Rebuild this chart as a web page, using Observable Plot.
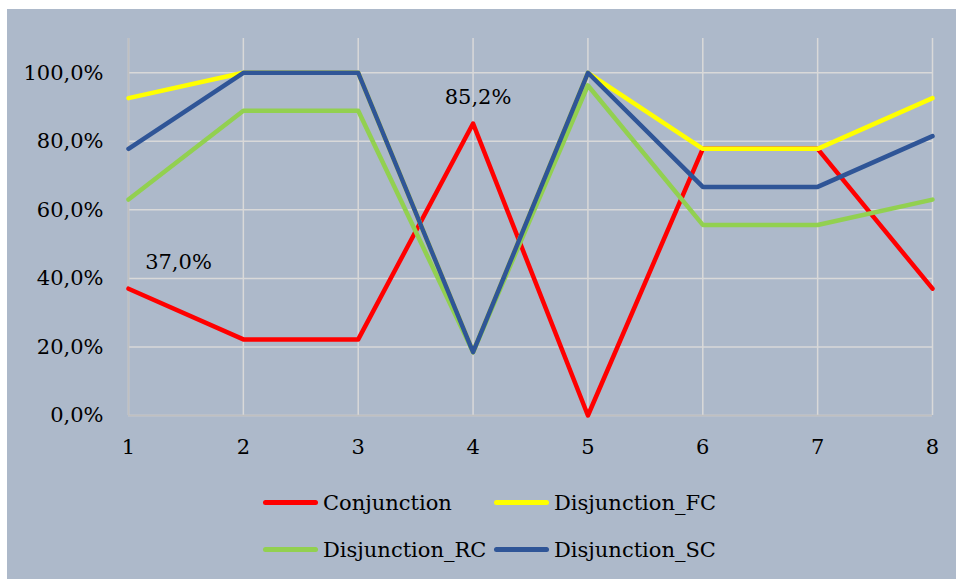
<!DOCTYPE html>
<html><head><meta charset="utf-8">
<script src="https://cdn.jsdelivr.net/npm/d3@7"></script>
<script src="https://cdn.jsdelivr.net/npm/@observablehq/plot@0.6"></script>
<style>
body{margin:0;background:#fff;}
#chart{position:absolute;left:7px;top:9px;width:949px;height:570px;background:#adb9ca;font-family:"DejaVu Serif",serif;overflow:hidden;}
#legend{position:absolute;left:256px;top:470px;display:grid;grid-template-columns:231px 231px;grid-auto-rows:47px;font-size:21px;color:#000;}
.item{display:flex;align-items:center;}
.sw{width:55px;height:5px;border-radius:3px;margin-right:5px;}
</style></head>
<body><div id="chart"><div id="legend"></div></div>
<script>
const categories = [1, 2, 3, 4, 5, 6, 7, 8];
const conjunction   = [0.370, 0.222, 0.222, 0.852, 0.000, 0.778, 0.778, 0.370];
const disjunctionFC = [0.926, 1.000, 1.000, 0.185, 1.000, 0.778, 0.778, 0.926];
const disjunctionRC = [0.630, 0.889, 0.889, 0.185, 0.963, 0.556, 0.556, 0.630];
const disjunctionSC = [0.778, 1.000, 1.000, 0.185, 1.000, 0.667, 0.667, 0.815];
const seriesNames = ["Conjunction", "Disjunction_FC", "Disjunction_RC", "Disjunction_SC"];
const seriesColors = ["#ff0000", "#ffff00", "#92d050", "#2f5597"];
const yTicks = [0, 0.2, 0.4, 0.6, 0.8, 1.0];
const legendOrder = ["Conjunction", "Disjunction_FC", "Disjunction_RC", "Disjunction_SC"];

const seriesValues = [conjunction, disjunctionFC, disjunctionRC, disjunctionSC];
const rows = [];
seriesNames.forEach((name, i) => categories.forEach((c, j) => rows.push({series: name, x: c, y: seriesValues[i][j]})));

const locale = d3.formatLocale({decimal: ",", thousands: ".", grouping: [3], currency: ["", "€"]});
const pct = locale.format(".1%");

const label1 = rows.filter(d => d.series === "Conjunction" && d.x === 1);
const label2 = rows.filter(d => d.series === "Conjunction" && d.x === 4);

const plot = Plot.plot({
  width: 949, height: 470,
  marginLeft: 121, marginRight: 24, marginTop: 29, marginBottom: 64,
  style: {background: "transparent", fontFamily: "DejaVu Serif, serif", fontSize: "21px", color: "#000"},
  x: {domain: [1, 8], ticks: categories, tickFormat: d => String(d), tickSize: 0, tickPadding: 24, label: null},
  y: {domain: [0, 1.1], ticks: yTicks, tickFormat: pct, tickSize: 0, tickPadding: 25, label: null},
  color: {domain: seriesNames, range: seriesColors},
  marks: [
    Plot.ruleY(yTicks, {stroke: "#d9d9d9", strokeWidth: 1.5, strokeOpacity: 1}),
    Plot.ruleX(categories, {stroke: "#d9d9d9", strokeWidth: 1.5, strokeOpacity: 1}),
    Plot.ruleX([1], {stroke: "#c0c0c0", strokeWidth: 1.5}),
    Plot.ruleY([0], {stroke: "#c0c0c0", strokeWidth: 1.5}),
    Plot.lineY(rows, {x: "x", y: "y", z: "series", stroke: "series", strokeWidth: 4.5, strokeLinecap: "round"}),
    Plot.text(label1, {x: "x", y: "y", text: d => pct(d.y), dx: 50, dy: -26, fill: "#000"}),
    Plot.text(label2, {x: "x", y: "y", text: d => pct(d.y), dx: 5, dy: -26, fill: "#000"}),
    Plot.axisX({ticks: categories, tickFormat: d => String(d), tickSize: 0, tickPadding: 24, label: null}),
    Plot.axisY({ticks: yTicks, tickFormat: pct, tickSize: 0, tickPadding: 25, label: null})
  ]
});
document.getElementById("chart").prepend(plot);

const legend = document.getElementById("legend");
legendOrder.forEach(name => {
  const item = document.createElement("div");
  item.className = "item";
  const sw = document.createElement("span");
  sw.className = "sw";
  sw.style.background = seriesColors[seriesNames.indexOf(name)];
  const t = document.createElement("span");
  t.textContent = name;
  item.append(sw, t);
  legend.append(item);
});
</script>
</body></html>
